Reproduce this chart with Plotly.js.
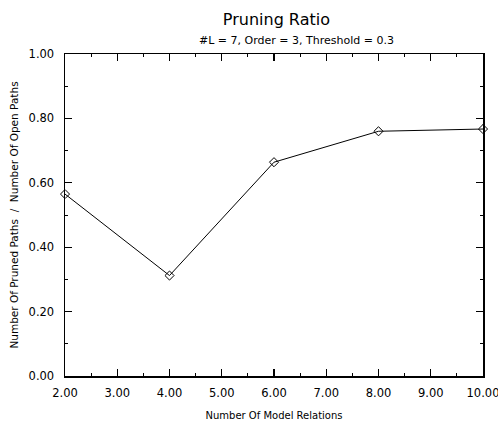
<!DOCTYPE html>
<html><head><meta charset="utf-8">
<script src="https://cdn.plot.ly/plotly-3.0.1.min.js"></script>
<style>body{margin:0;background:#fff}#c{width:498px;height:424px}</style>
</head><body><div id="c"></div>
<script>
const relations = [2, 4, 6, 8, 10];
const pruningRatio = [0.565, 0.312, 0.664, 0.760, 0.767];
const xTickStart = 2, xTickStep = 1;
const yTickStart = 0, yTickStep = 0.2;

const font = "DejaVu Sans, sans-serif";
const traces = [{
  x: relations, y: pruningRatio, type: 'scatter', mode: 'lines+markers',
  line: {color: '#000', width: 1},
  marker: {symbol: 'diamond-open', size: 7, color: '#000', line: {width: 1, color: '#000'}},
  cliponaxis: false, hoverinfo: 'skip'
}];
const axisCommon = {
  showgrid: false, zeroline: false, showline: true, linecolor: '#000', linewidth: 1.5,
  mirror: 'allticks', ticks: 'inside', ticklen: 7, tickcolor: '#000', tickwidth: 1.2,
  tickfont: {family: font, size: 11.5, color: '#000'},
  tickformat: '.2f', tickmode: 'linear', ticklabeloverflow: 'allow'
};
const layout = {
  width: 498, height: 424,
  margin: {l: 65, r: 15, t: 54, b: 48},
  paper_bgcolor: '#fff', plot_bgcolor: '#fff',
  showlegend: false,
  title: {text: 'Pruning Ratio', font: {family: font, size: 16, color: '#000'}, x: 0.555, xanchor: 'center', y: 0.955, yanchor: 'middle'},
  xaxis: Object.assign({}, axisCommon, {
    range: [2, 10], tick0: xTickStart, dtick: xTickStep, ticklabelstandoff: 6,
    minor: {ticks: 'inside', ticklen: 3, tickcolor: '#000', tickwidth: 1, dtick: 0.5, showgrid: false},
    title: {text: 'Number Of Model Relations', font: {family: font, size: 10, color: '#000'}, standoff: 12}
  }),
  yaxis: Object.assign({}, axisCommon, {
    range: [0, 1], tick0: yTickStart, dtick: yTickStep, ticklabelstandoff: 7,
    minor: {ticks: 'inside', ticklen: 3, tickcolor: '#000', tickwidth: 1, dtick: 0.1, showgrid: false},
    title: {text: 'Number Of Pruned Paths  /  Number Of Open Paths', font: {family: font, size: 10.5, color: '#000'}, standoff: 8}
  }),
  annotations: [{
    text: '#L = 7, Order = 3, Threshold = 0.3', xref: 'paper', yref: 'paper',
    x: 0.555, y: 1.0, yshift: 14, xanchor: 'center', yanchor: 'middle', showarrow: false,
    font: {family: font, size: 11, color: '#000'}
  }]
};
Plotly.newPlot('c', traces, layout, {staticPlot: true});
</script></body></html>
